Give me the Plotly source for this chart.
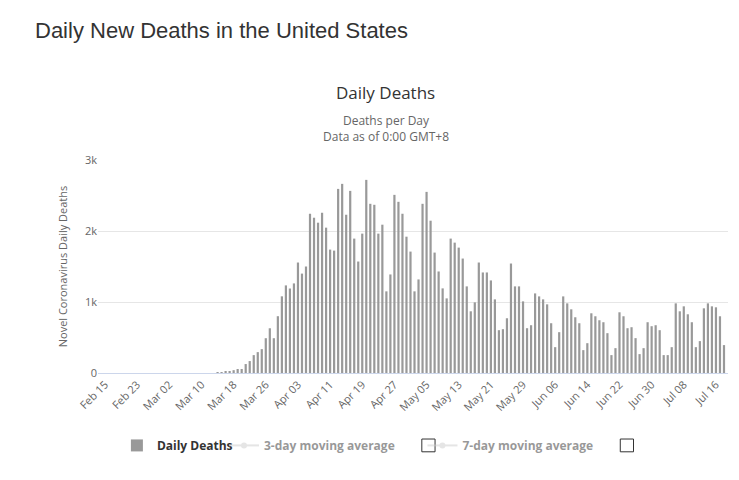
import plotly.graph_objects as go
import pandas as pd

# daily deaths, Feb 15 .. Jul 18 2020
early = [0] * 28 + [10, 12, 18, 23, 40]  # Feb 15 - Mar 18
main = [56, 56, 126, 168, 252, 294, 336, 490, 630, 490, 800, 1080, 1234, 1190, 1262,
        1556, 1400, 1500, 2243, 2187, 2117, 2257, 2047, 1738, 1724, 2593, 2664, 2229,
        2565, 1893, 1570, 1963, 2720, 2383, 2369, 1963, 2089, 1150, 1388, 2509, 2411,
        2243, 1920, 1710, 1150, 1318, 2383, 2551, 2145, 1696, 1430, 1192, 1051, 1893,
        1836, 1766, 1612, 1220, 869, 995, 1556, 1416, 1416, 1304, 1037,
        603, 617, 771, 1542, 1220, 1220, 1009, 631, 673, 1121, 1079, 1037, 967, 701,
        364, 575, 1079, 981, 897, 785, 701, 322, 420, 841, 799, 743, 715, 561, 252,
        350, 855, 799, 631, 645, 491, 266, 350, 715, 659, 673, 603, 252, 252, 364,
        981, 869, 939, 827, 715, 364, 449, 911, 981, 939, 925, 799, 393]
deaths = early + main
dates = pd.date_range("2020-02-15", periods=len(deaths), freq="D")
tick_dates = pd.date_range("2020-02-15", "2020-07-18", freq="8D")
tick_text = [d.strftime("%b %d") for d in tick_dates]

fig = go.Figure()
fig.add_trace(go.Bar(x=dates, y=deaths, name="<b>Daily Deaths</b>", marker_color="#999999",
                     marker_line_width=0, legend="legend"))
fig.add_trace(go.Scatter(x=dates, y=deaths, name="<b>3-day moving average</b>", mode="lines+markers",
                         visible="legendonly", line_color="#cccccc", legend="legend2"))
fig.add_trace(go.Scatter(x=dates, y=deaths, name="<b>7-day moving average</b>", mode="lines+markers",
                         visible="legendonly", line_color="#cccccc", legend="legend3"))

leg = dict(orientation="h", y=-0.34, yanchor="middle", xanchor="left", itemclick=False,
           bgcolor="rgba(0,0,0,0)", font=dict(size=12, color="#333333"))

fig.update_layout(
    width=739, height=480,
    margin=dict(l=90, r=19, t=152, b=115, autoexpand=False),
    plot_bgcolor="white", paper_bgcolor="white",
    font=dict(family="Open Sans, Arial, sans-serif", color="#666666"),
    bargap=0.45,
    showlegend=True,
    legend=dict(leg, x=0.03),
    legend2=dict(leg, x=0.2),
    legend3=dict(leg, x=0.515),
    xaxis=dict(range=["2020-02-13 06:00", "2020-07-19"], tickvals=tick_dates,
               ticktext=tick_text, tickangle=-45, tickfont=dict(size=11, color="#666666"),
               showgrid=False, showline=True, linecolor="#ccd6eb", ticks=""),
    yaxis=dict(range=[0, 3000], tickvals=[0, 1000, 2000, 3000],
               ticktext=["0", "1k", "2k", "3k"], gridcolor="#e6e6e6",
               tickfont=dict(size=11, color="#666666"), zeroline=False,
               title=dict(text="Novel Coronavirus Daily Deaths", font=dict(size=11, color="#666666"))),
    annotations=[
        dict(text="Daily New Deaths in the United States", xref="paper", yref="paper",
             x=-0.103, y=1.61, xanchor="left", yanchor="middle", showarrow=False,
             font=dict(size=22, color="#333333", family="Arial, sans-serif")),
        dict(text="Daily Deaths", xref="paper", yref="paper", x=0.457, y=1.315,
             xanchor="center", yanchor="middle", showarrow=False,
             font=dict(size=17, color="#333333")),
        dict(text="Deaths per Day<br>Data as of 0:00 GMT+8", xref="paper", yref="paper",
             x=0.457, y=1.15, xanchor="center", yanchor="middle", showarrow=False,
             font=dict(size=12, color="#666666")),
    ],
    shapes=[
        dict(type="rect", xref="paper", yref="paper", x0=0.514, x1=0.535, y0=-0.37, y1=-0.31,
             line=dict(color="#333333", width=1)),
        dict(type="rect", xref="paper", yref="paper", x0=0.829, x1=0.85, y0=-0.37, y1=-0.31,
             line=dict(color="#333333", width=1)),
    ],
)

fig.write_html("out.html")
